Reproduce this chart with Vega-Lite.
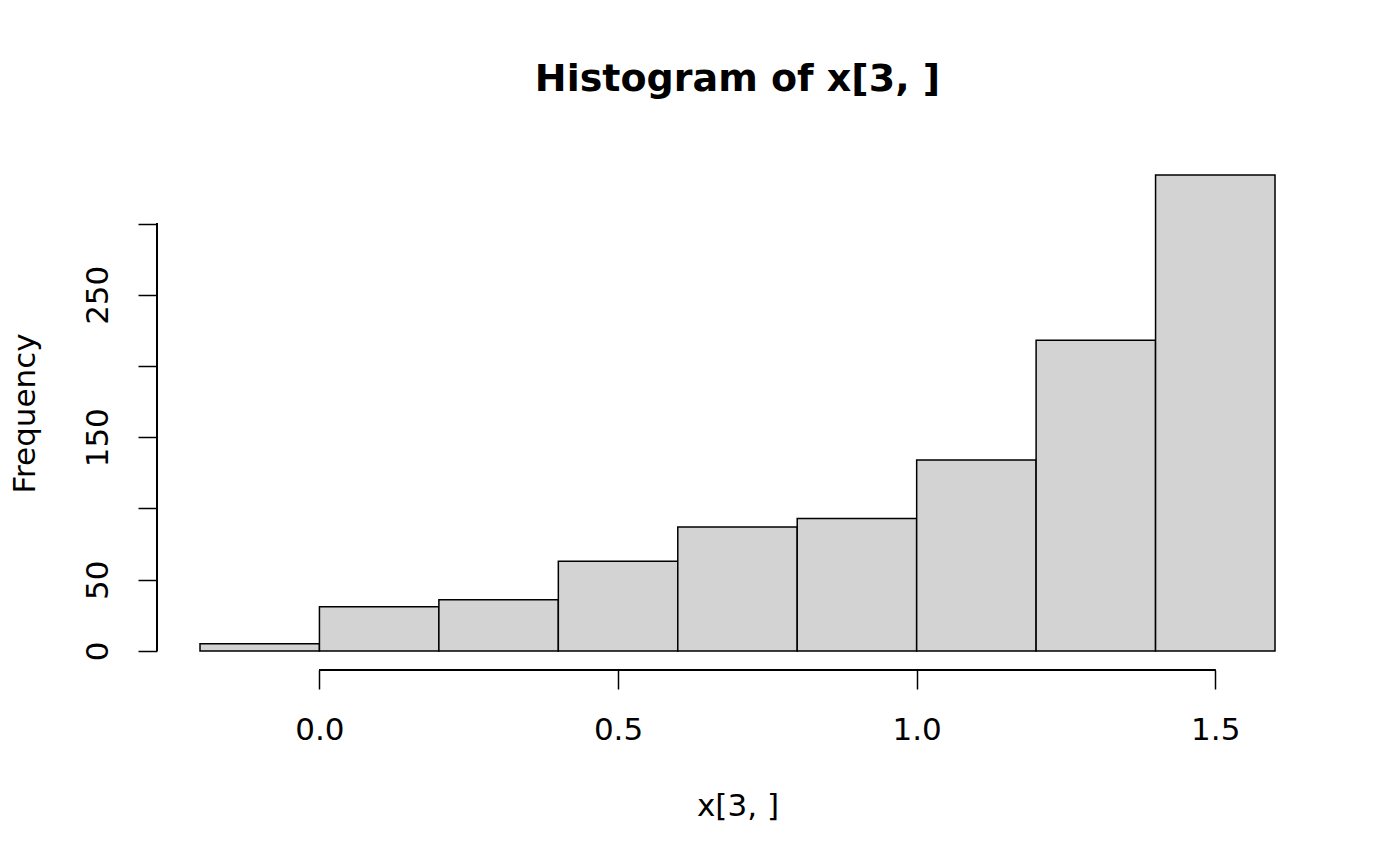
{
  "$schema": "https://vega.github.io/schema/vega-lite/v6.json",
  "autosize": "none",
  "width": 1161,
  "height": 514,
  "padding": {"left": 157, "top": 156, "right": 82, "bottom": 196},
  "background": "white",
  "config": {
    "view": {"stroke": null},
    "font": "DejaVu Sans",
    "axis": {"grid": false, "domain": false, "tickColor": "black", "tickWidth": 1.5, "tickSize": 19,
      "labelFont": "DejaVu Sans", "labelFontSize": 31, "labelColor": "black",
      "titleFont": "DejaVu Sans", "titleFontSize": 31, "titleFontWeight": "normal", "titleColor": "black"}
  },
  "title": {"text": "Histogram of x[3, ]", "fontSize": 38, "fontWeight": "bold", "font": "DejaVu Sans", "color": "black", "anchor": "middle", "baseline": "alphabetic", "offset": 27},
  "data": {"values": [
    {"bin_start": -0.2, "bin_end": 0.0, "count": 5},
    {"bin_start": 0.0, "bin_end": 0.2, "count": 31},
    {"bin_start": 0.2, "bin_end": 0.4, "count": 36},
    {"bin_start": 0.4, "bin_end": 0.6, "count": 63},
    {"bin_start": 0.6, "bin_end": 0.8, "count": 87},
    {"bin_start": 0.8, "bin_end": 1.0, "count": 93},
    {"bin_start": 1.0, "bin_end": 1.2, "count": 134},
    {"bin_start": 1.2, "bin_end": 1.4, "count": 218},
    {"bin_start": 1.4, "bin_end": 1.6, "count": 334}
  ]},
  "layer": [
    {
      "mark": {"type": "rect", "fill": "#D3D3D3", "stroke": "black", "strokeWidth": 1.5},
      "encoding": {
        "x": {"field": "bin_start", "type": "quantitative",
          "scale": {"domain": [-0.272, 1.672], "nice": false, "zero": false},
          "axis": {"values": [0, 0.5, 1, 1.5], "format": ".1f", "labelBaseline": "alphabetic", "labelPadding": 50, "title": "x[3, ]", "titleBaseline": "alphabetic", "titlePadding": 70}},
        "x2": {"field": "bin_end"},
        "y": {"field": "count", "type": "quantitative",
          "scale": {"domain": [-13.36, 347.4], "nice": false, "zero": false},
          "axis": {"values": [0, 50, 100, 150, 200, 250, 300], "labelAngle": -90, "labelAlign": "center", "labelBaseline": "alphabetic", "labelPadding": 31, "labelExpr": "datum.value % 100 == 50 || datum.value == 0 ? datum.label : ''", "title": "Frequency", "titleBaseline": "alphabetic", "titlePadding": 48}},
        "y2": {"datum": 0}
      }
    },
    {
      "mark": {"type": "rule", "color": "black", "strokeWidth": 1.5},
      "encoding": {
        "x": {"datum": 0},
        "x2": {"datum": 1.5},
        "y": {"datum": -13.36}
      }
    },
    {
      "mark": {"type": "rule", "color": "black", "strokeWidth": 1.5},
      "encoding": {
        "x": {"datum": -0.272},
        "y": {"datum": 0},
        "y2": {"datum": 300}
      }
    }
  ]
}
